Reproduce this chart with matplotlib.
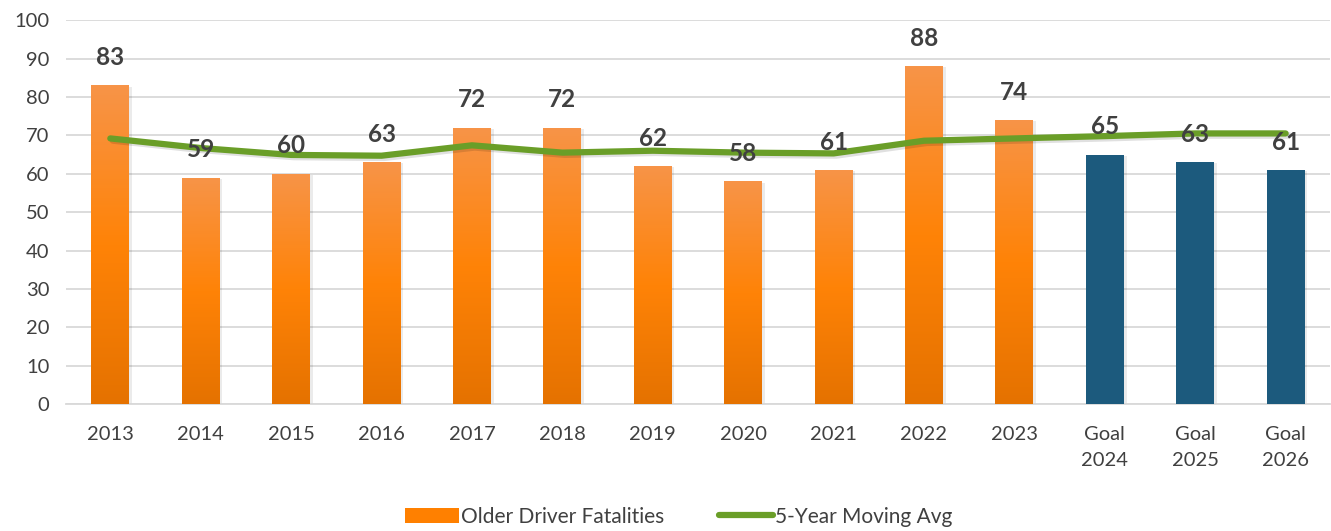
import numpy as np
from matplotlib import pyplot as plt
from matplotlib import colors as colors
from matplotlib.lines import Line2D
from matplotlib.patches import Patch

# Data
categories = ["2013", "2014", "2015", "2016", "2017", "2018", "2019",
              "2020", "2021", "2022", "2023", "Goal\n2024", "Goal\n2025", "Goal\n2026"]
fatalities = [83, 59, 60, 63, 72, 72, 62, 58, 61, 88, 74, 65, 63, 61]
is_goal = [False]*11 + [True]*3
moving_avg = [69.2, 66.7, 64.9, 64.7, 67.4, 65.5, 66.0, 65.5, 65.3, 68.6, 69.2, 69.8, 70.5, 70.5]

# Colors
orange_grad = colors.LinearSegmentedColormap.from_list(
    "orange", ["#E57200", "#FF8307", "#F79448"])
navy = "#1C5A7D"
green = "#6A9E28"
txt = "#404040"

plt.rcParams['font.family'] = ['Lato', 'DejaVu Sans']

fig = plt.figure(figsize=(13.31, 5.31), dpi=100)
ax = fig.add_axes([0.0496, 0.239, 0.9496, 0.723])

x = np.arange(len(categories))
width = 0.42
ax.set_xlim(-0.49, len(categories) - 0.51)
ax.set_ylim(0, 100)

grad = np.linspace(0, 1, 256).reshape(-1, 1)
for xi, v, g in zip(x, fatalities, is_goal):
    # soft shadow
    ax.bar(xi + 0.03, v - 0.3, width, color="#000000", alpha=0.08, zorder=2)
    if g:
        ax.bar(xi, v, width, color=navy, zorder=3)
    else:
        b = ax.bar(xi, v, width, color="none", zorder=3)[0]
        im = ax.imshow(grad, cmap=orange_grad, origin="lower", aspect="auto",
                       extent=(xi - width/2, xi + width/2, 0, v), zorder=3)
        im.set_clip_path(b)
    ax.annotate(str(v), (xi, v), xytext=(0, 20), textcoords="offset points",
                ha="center", va="center", fontsize=17.5, fontweight="bold", color=txt,
                zorder=6)

# Line with shadow
ax.plot(x + 0.03, np.array(moving_avg) - 0.5, color="#000000", alpha=0.12, lw=5,
        solid_capstyle="round", zorder=4)
ax.plot(x, moving_avg, color=green, lw=4.5, solid_capstyle="round",
        solid_joinstyle="round", zorder=5)

ax.set_yticks(np.arange(0, 101, 10))
ax.set_xticks(x)
ax.set_xticklabels(categories, linespacing=1.65)
ax.yaxis.grid(True, color="#D9D9D9", lw=1.3)
ax.set_axisbelow(True)
for s in ["top", "right", "left"]:
    ax.spines[s].set_visible(False)
ax.spines["bottom"].set_color("#D9D9D9")
ax.spines["bottom"].set_linewidth(1.3)
ax.tick_params(length=0, labelsize=14.5, labelcolor=txt)
ax.tick_params(axis="x", pad=16)
ax.tick_params(axis="y", pad=12)

handles = [Patch(facecolor="#FF8000", edgecolor="none"),
           Line2D([0], [0], color=green, lw=4.5, solid_capstyle="round")]
fig.legend(handles, ["Older Driver Fatalities", "5-Year Moving Avg"],
           loc="center", bbox_to_anchor=(0.51, 0.027), ncol=2, frameon=False,
           fontsize=15, labelcolor=txt, handlelength=2.6, handletextpad=0.1,
           columnspacing=2.6)

fig.savefig("out.png", dpi=100)
